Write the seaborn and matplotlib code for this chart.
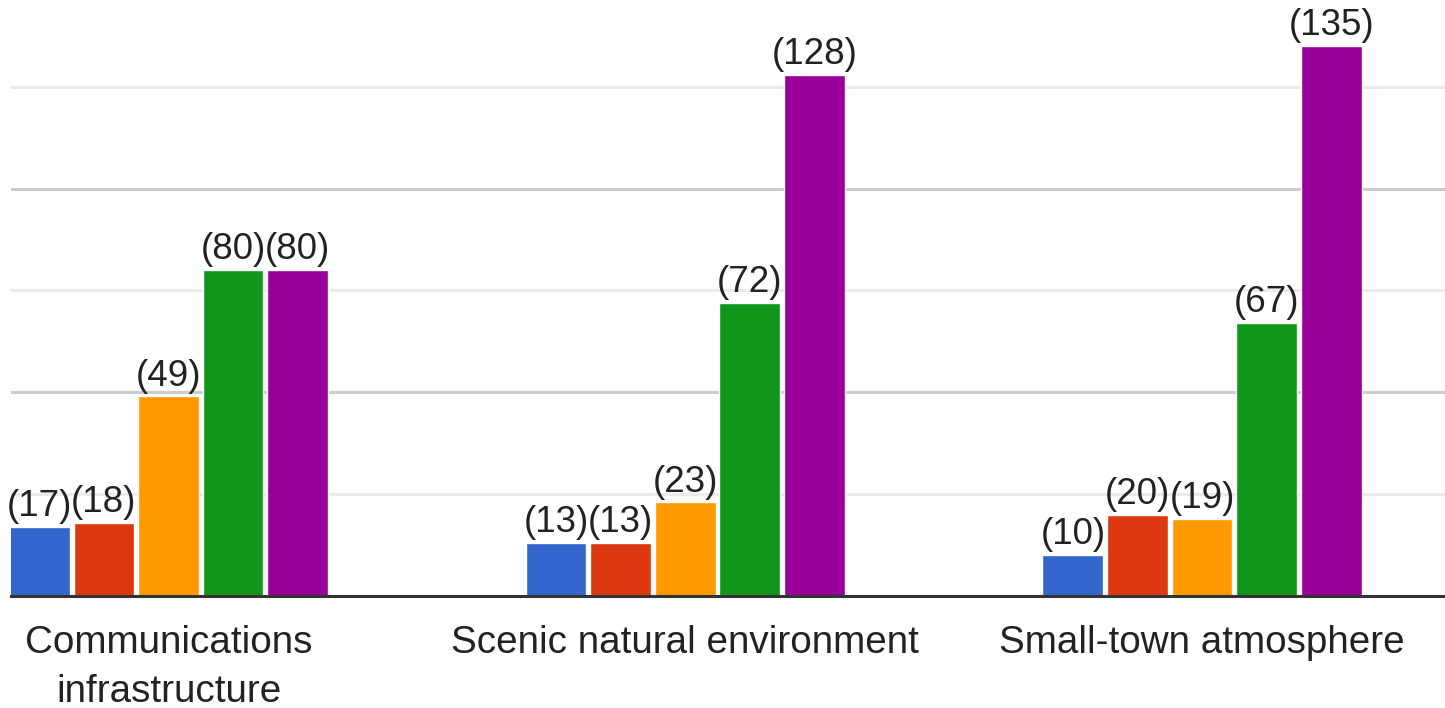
import pandas as pd
import matplotlib.pyplot as plt
import seaborn as sns
from matplotlib.ticker import MultipleLocator

# chart data
categories = ["Communications\ninfrastructure", "Scenic natural environment", "Small-town atmosphere"]
ratings = ["1", "2", "3", "4", "5"]
counts_1 = [17, 13, 10]
counts_2 = [18, 13, 20]
counts_3 = [49, 23, 19]
counts_4 = [80, 72, 67]
counts_5 = [80, 128, 135]
colors = ["#3366cc", "#dc3912", "#ff9900", "#109618", "#990099"]

rows = []
for rating, vals in zip(ratings, [counts_1, counts_2, counts_3, counts_4, counts_5]):
    for cat, v in zip(categories, vals):
        rows.append({"category": cat, "rating": rating, "count": v})
df = pd.DataFrame(rows)

sns.set_style("white")
plt.rcParams['font.family'] = ['Liberation Sans', 'DejaVu Sans']

W, H = 1445, 708
fig = plt.figure(figsize=(W / 100, H / 100), dpi=100)
ax = fig.add_axes([11 / W, 112 / H, (W - 11) / W, 596 / H])

sns.barplot(data=df, x="category", y="count", hue="rating", palette=colors,
            width=0.625, gap=0.06, saturation=1, legend=False, ax=ax, zorder=3)

for cont in ax.containers:
    ax.bar_label(cont, fmt="({:.0f})", fontsize=26.5, color="#222222", padding=2)

ax.set_xlim(-0.3048, 2.4702)
ax.set_ylim(0, 146.3)
ax.yaxis.set_major_locator(MultipleLocator(50))
ax.yaxis.set_minor_locator(MultipleLocator(25))
ax.grid(axis="y", which="major", color="#cccccc", lw=2.2, zorder=0)
ax.grid(axis="y", which="minor", color="#ebebeb", lw=2.2, zorder=0)
ax.set_axisbelow(True)
ax.tick_params(axis="y", which="both", left=False, labelleft=False)
ax.tick_params(axis="x", length=0, pad=21, labelsize=27.8, labelcolor="#222222")
plt.setp(ax.get_xticklabels(), linespacing=1.45)
ax.set_xlabel("")
ax.set_ylabel("")
for side in ["top", "left", "right"]:
    ax.spines[side].set_visible(False)
ax.spines["bottom"].set_color("#333333")
ax.spines["bottom"].set_linewidth(2.2)
ax.spines["bottom"].set_zorder(4)

fig.savefig("out.png", dpi=100)
